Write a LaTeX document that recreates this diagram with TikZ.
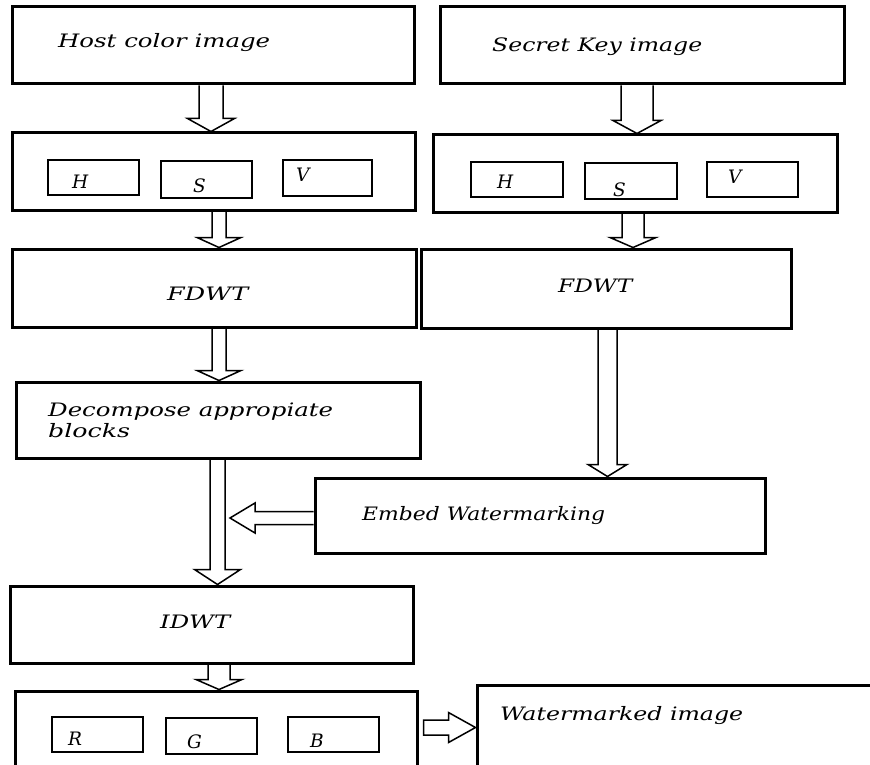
\documentclass[tikz,border=0pt]{standalone}
\usepackage{fontspec}
\usetikzlibrary{calc,fit}
\newfontfamily\wfont{DejaVu Serif}
\newcommand\tx[2]{\resizebox{#1}{\height}{#2}}
\newcommand\barrow[6][]{%
  \coordinate (ba-s) at (#2);
  \coordinate (ba-t) at (#3);
  \coordinate (ba-b) at ($(ba-t)!#6!(ba-s)$);
  \draw[blk] ($(ba-s)!#4!90:(ba-t)$) -- ($(ba-b)!#4!90:(ba-t)$) -- ($(ba-b)!#5!90:(ba-t)$) -- (ba-t) -- ($(ba-b)!#5!-90:(ba-t)$) -- ($(ba-b)!#4!-90:(ba-t)$) -- ($(ba-s)!#4!-90:(ba-t)$) #1;
}
\tikzset{
  box/.style={draw, line width=3pt, inner sep=0pt},
  sbox/.style={draw, line width=1.3pt, inner sep=0pt},
  lbl/.style={anchor=base west, inner sep=0pt, font=\wfont\itshape\fontsize{18.5}{22}\selectfont},
  blk/.style={draw, line width=1.5pt, line join=miter}
}
\begin{document}
\begin{tikzpicture}[x=1pt,y=-1pt]
\path[use as bounding box, clip] (0,0) rectangle (870,765);
\fill[white] (0,0) rectangle (870,765);
% boxes
\node[box, fit={(12,7) (414,84)}] (host) {};
\node[box, fit={(440,7) (844,84)}] (secret) {};
\node[box, fit={(12,133) (415,210)}] (hsvL) {};
\node[sbox, fit={(48,160) (139,195)}] (hl) {};
\node[sbox, fit={(161,161) (252,198)}] (sl) {};
\node[sbox, fit={(283,160) (372,196)}] (vl) {};
\node[box, fit={(433,135) (837,212)}] (hsvR) {};
\node[sbox, fit={(471,162) (563,197)}] (hr) {};
\node[sbox, fit={(585,163) (677,199)}] (sr) {};
\node[sbox, fit={(707,162) (798,197)}] (vr) {};
\node[box, fit={(12,249) (416,327)}] (fdwtL) {};
\node[box, fit={(421,249) (791,328)}] (fdwtR) {};
\node[box, fit={(16,382) (420,458)}] (decomp) {};
\node[box, fit={(315,478) (765,553)}] (embed) {};
\node[box, fit={(10,586) (413,663)}] (idwt) {};
\node[box, fit={(15,691) (417,780)}] (rgb) {};
\node[sbox, fit={(52,717) (143,752)}] (rr) {};
\node[sbox, fit={(166,718) (257,754)}] (gg) {};
\node[sbox, fit={(288,717) (379,752)}] (bb) {};
\node[box, fit={(477,685) (885,785)}] (wm) {};
% labels
\node[lbl] (thost) at (58,48) {\tx{212pt}{Host color image}};
\node[lbl] (tsecret) at (492,52) {\tx{210pt}{Secret Key image}};
\node[lbl] (thl) at (72,188) {H};
\node[lbl] (tsl) at (193,192) {S};
\node[lbl] (tvl) at (296,182) {V};
\node[lbl] (thr) at (497,188) {H};
\node[lbl] (tsr) at (613,196) {S};
\node[lbl] (tvr) at (728,183) {V};
\node[lbl] (tfl) at (167,300) {\tx{81pt}{FDWT}};
\node[lbl] (tfr) at (558,292) {\tx{74pt}{FDWT}};
\node[lbl] (tdec) at (48,416) {\tx{285pt}{Decompose appropiate}};
\node[lbl] (tblk) at (48,437) {\tx{82pt}{blocks}};
\node[lbl] (temb) at (362,520) {\tx{243pt}{Embed Watermarking}};
\node[lbl] (tidwt) at (160,628) {\tx{70pt}{IDWT}};
\node[lbl] (tr) at (68,745) {R};
\node[lbl] (tg) at (187,748) {G};
\node[lbl] (tb) at (310,747) {B};
\node[lbl] (twm) at (500,720) {\tx{243pt}{Watermarked image}};
% connector columns
\coordinate (c1) at (211,0);
\coordinate (c2) at (637,0);
\coordinate (c3) at (219,0);
\coordinate (c4) at (633,0);
\coordinate (c5) at (219,0);
\coordinate (c6) at (607.5,0);
\coordinate (c7) at (217.5,0);
\coordinate (c9) at (219,0);
\coordinate (r1) at (0,518);
\coordinate (r2) at (0,727.5);
\coordinate (join) at (230,518);
% arrows
\barrow{c1 |- host.south}{c1 |- hsvL.north}{12pt}{23.5pt}{13pt}
\barrow{c2 |- secret.south}{c2 |- hsvR.north}{16pt}{24pt}{13pt}
\barrow{c3 |- hsvL.south}{c3 |- fdwtL.north}{7pt}{22pt}{10pt}
\barrow{c4 |- hsvR.south}{c4 |- fdwtR.north}{11pt}{23pt}{10pt}
\barrow{c5 |- fdwtL.south}{c5 |- decomp.north}{7pt}{22pt}{10pt}
\barrow{c6 |- fdwtR.south}{c6 |- embed.north}{9.5pt}{19.5pt}{12pt}
\barrow{c7 |- decomp.south}{c7 |- idwt.north}{7.5pt}{23pt}{15pt}
\barrow{r1 -| embed.west}{join}{6.5pt}{15pt}{25pt}
\barrow{c9 |- idwt.south}{c9 |- rgb.north}{11pt}{23pt}{10pt}
\barrow[-- cycle]{$(r2 -| rgb.east)+(5,0)$}{r2 -| wm.west}{7.5pt}{15pt}{27pt}
\end{tikzpicture}
\end{document}
